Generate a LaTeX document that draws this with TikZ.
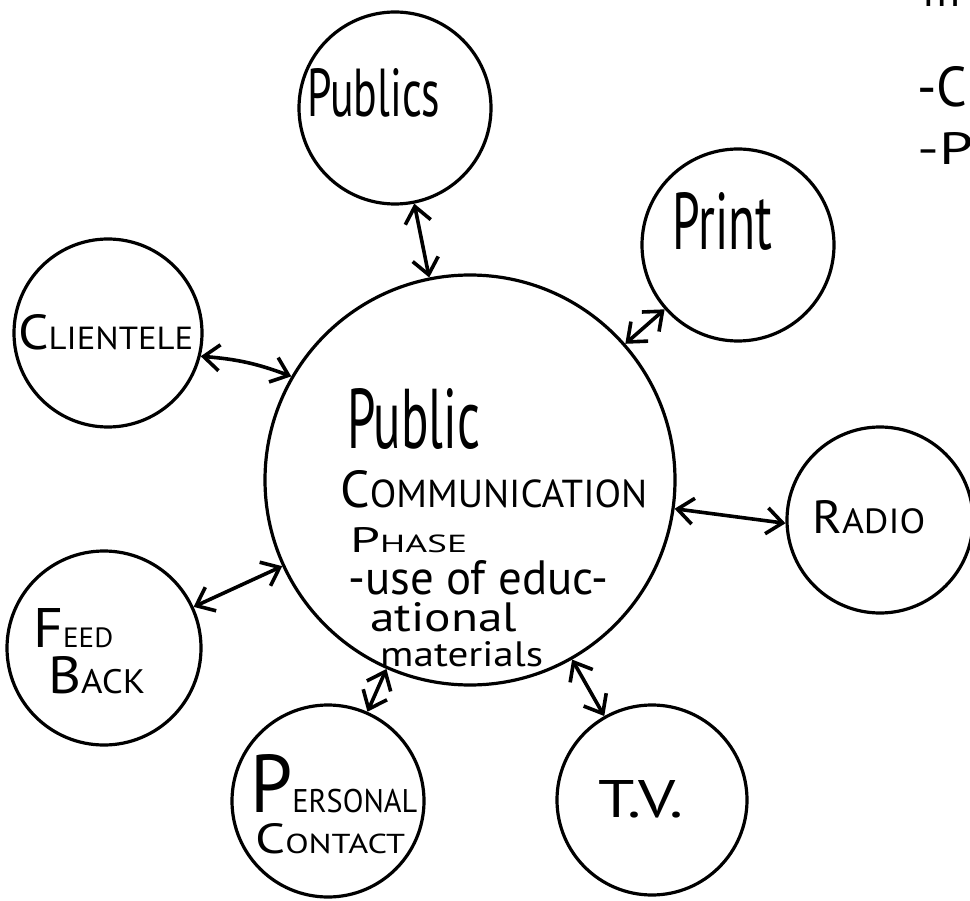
\documentclass[tikz,border=0pt]{standalone}
\usepackage{fontspec}
\setmainfont{PT Sans}
\usepackage{graphicx}
\usetikzlibrary{arrows.meta}
\newcommand{\fitw}[3]{\resizebox{#1pt}{#2pt}{#3}}
\newcommand{\capsm}[3]{{\fontsize{20}{24}\selectfont #1{\fontsize{#3}{24}\selectfont #2}}}
\begin{document}
\begin{tikzpicture}[x=1pt,y=-1pt,
  ring/.style={circle, draw, line width=3.2pt, inner sep=0pt},
  conn/.style={line width=3.6pt, {Straight Barb[length=16pt,width=26pt]}-{Straight Barb[length=16pt,width=26pt]}},
  lbl/.style={inner sep=0pt, anchor=base west}]
\fill[white] (0,0) rectangle (970,901);
\useasboundingbox (0,0) rectangle (970,901);
% circles
\node[ring, minimum size=410pt] (ctr) at (470,480) {};
\node[ring, minimum size=192pt] (pub) at (395,108) {};
\node[ring, minimum size=192pt] (prt) at (738,245) {};
\node[ring, minimum size=188pt] (cli) at (108,333) {};
\node[ring, minimum size=186pt] (rad) at (880,520) {};
\node[ring, minimum size=194pt] (fb) at (104,648) {};
\node[ring, minimum size=192pt] (pc) at (328,801) {};
\node[ring, minimum size=190pt] (tv) at (652,800) {};
% labels
\node[lbl] (tpub) at (307,117) {\fitw{133}{48}{Publics}};
\node[lbl] (tprt) at (672,250) {\fitw{100}{57}{Print}};
\node[lbl] (tcli) at (18,350) {\fitw{175}{35}{\capsm{C}{LIENTELE}{13}}};
\node[lbl] (tc1) at (347,448) {\fitw{133}{60}{Public}};
\node[lbl] (tc2) at (340,507) {\fitw{307}{37}{\capsm{C}{OMMUNICATION}{15}}};
\node[lbl] (tc3) at (350,552) {\fitw{117}{25}{\capsm{P}{HASE}{14}}};
\node[lbl] (tc4) at (348,594) {\fitw{260}{34}{-use of educ-}};
\node[lbl] (tc5) at (370,631) {\fitw{147}{29}{ational}};
\node[lbl] (tc6) at (380,666) {\fitw{163}{25}{materials}};
\node[lbl] (trad) at (812,533) {\fitw{113}{33}{\capsm{R}{ADIO}{15}}};
\node[lbl] (tfb1) at (33,647) {\fitw{80}{39}{\capsm{F}{EED}{10}}};
\node[lbl] (tfb2) at (48,693) {\fitw{97}{37}{\capsm{B}{ACK}{13}}};
\node[lbl] (tpc1) at (250,812) {\fitw{167}{58}{\capsm{P}{ERSONAL}{8}}};
\node[lbl] (tpc2) at (255,853) {\fitw{150}{30}{\capsm{C}{ONTACT}{13}}};
\node[lbl] (ttv) at (598,817) {\fitw{85}{37}{T.V.}};
\node[lbl] (tm) at (923,7) {\fitw{37}{28}{m}};
\node[lbl] (tcc) at (917,107) {\fitw{50}{40}{-C}};
\node[lbl] (tpp) at (917,165) {\fitw{56}{32}{-P}};
% connectors
\draw[conn] (pub) -- (ctr);
\draw[conn] (prt) -- (ctr);
\draw[conn] (cli) to[bend left=8] (ctr);
\draw[conn] (ctr.-8) -- (rad.182);
\draw[conn] (fb) -- (ctr);
\draw[conn] (pc) -- (ctr);
\draw[conn] (tv) -- (ctr);
\end{tikzpicture}
\end{document}
